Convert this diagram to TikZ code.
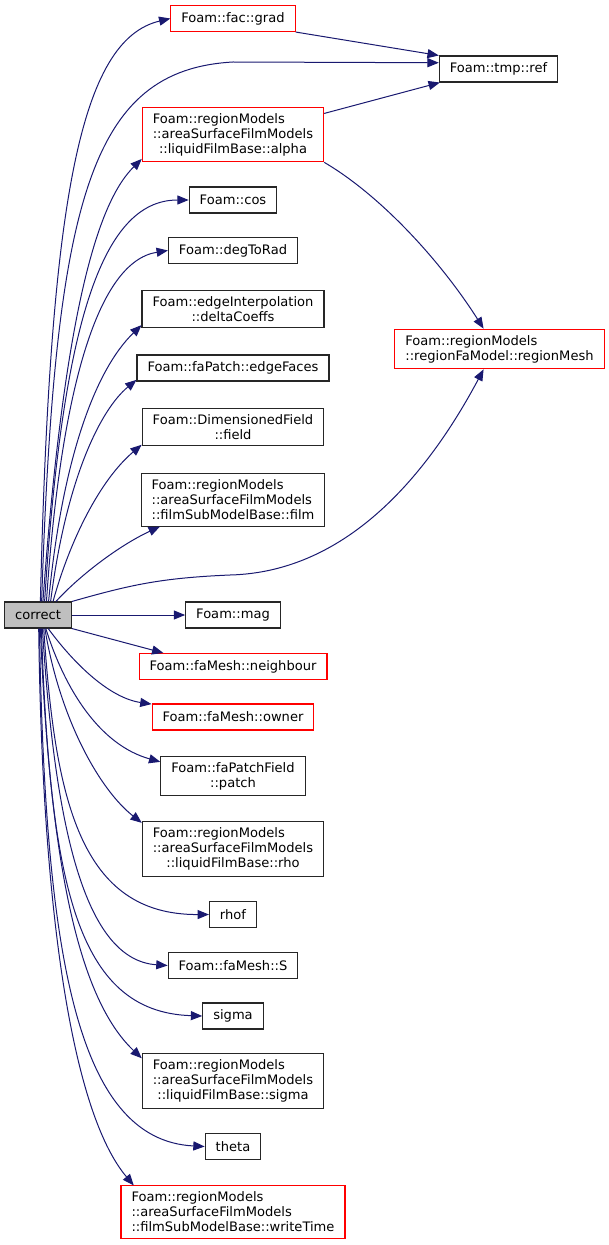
\documentclass[tikz,border=0pt]{standalone}
\usepackage{fontspec}
\setmainfont{DejaVu Sans}
\usepackage{tikz}
\usetikzlibrary{positioning,shapes,arrows.meta,calc}
\usepackage{xcolor}
\definecolor{eblue}{rgb}{0.098,0.098,0.439}
\definecolor{tred}{rgb}{1,0,0}
\colorlet{cgray}{black!25}
\tikzstyle{func} = [draw=black!85, line width=0.8pt, rectangle, align=center,
    inner xsep=7.9pt, inner ysep=4.5pt, minimum height=19.5pt,
    font=\fontsize{9.8}{11.25}\selectfont]
\tikzstyle{trunc} = [func, draw=tred]
\tikzstyle{root} = [func, fill=cgray]
\tikzstyle{call} = [draw=eblue, line width=0.75pt,
    -{Triangle[length=8.5pt,width=6.8pt]}, fill=none]
\newcommand{\firstline}[2]{\rlap{#1}\phantom{#2}}

\begin{document}
\begin{tikzpicture}[x=0.75pt,y=-0.75pt]
\useasboundingbox (0,0) rectangle (608,1245);
% called functions, one column
\node (correct) [root] at (38,615) {correct};
\node (grad) [trunc] at (233,18.5) {Foam::fac::grad};
\node (ref) [func] at (498.5,69) {Foam::tmp::ref};
\node (alpha) [trunc] at (233,134.5) {\firstline{Foam::regionModels}{::areaSurfaceFilmModels}\\::areaSurfaceFilmModels\\::liquidFilmBase::alpha};
\node (cos) [func] at (233,200) {Foam::cos};
\node (degrad) [func] at (233,250.5) {Foam::degToRad};
\node (delta) [func] at (233,309) {Foam::edgeInterpolation\\::deltaCoeffs};
\node (edgefaces) [func] at (233,368) {Foam::faPatch::edgeFaces};
\node (field) [func] at (233,427) {Foam::DimensionedField\\::field};
\node (film) [func, align=left] at (233,500) {Foam::regionModels\\::areaSurfaceFilmModels\\::filmSubModelBase::film};
\node (rmesh) [trunc, align=left] at (499.5,349) {Foam::regionModels\\::regionFaModel::regionMesh};
\node (mag) [func] at (233,615) {Foam::mag};
\node (nbr) [trunc] at (233,666.5) {Foam::faMesh::neighbour};
\node (owner) [trunc] at (233,717) {Foam::faMesh::owner};
\node (patch) [func] at (233,776) {Foam::faPatchField\\::patch};
\node (rho) [func] at (233,849) {\firstline{Foam::regionModels}{::areaSurfaceFilmModels}\\::areaSurfaceFilmModels\\::liquidFilmBase::rho};
\node (rhof) [func] at (233,914.5) {rhof};
\node (S) [func] at (233,965.5) {Foam::faMesh::S};
\node (sigma) [func] at (233,1016) {sigma};
\node (lsigma) [func] at (233,1081) {\firstline{Foam::regionModels}{::areaSurfaceFilmModels}\\::areaSurfaceFilmModels\\::liquidFilmBase::sigma};
\node (theta) [func] at (233,1146.5) {theta};
\node (wtime) [trunc, align=left] at (233,1212) {Foam::regionModels\\::areaSurfaceFilmModels\\::filmSubModelBase::writeTime};

% calls going up
\draw [call] (correct.80) .. controls (50,200) and (80,40) .. (grad.west);
\draw [call] (correct.75) .. controls (55,200) and (90,70) .. (233,62) -- (ref.174);
\draw [call] (correct.70) .. controls (65,300) and (100,200) .. (alpha.195);
\draw [call] (correct.64) .. controls (62,330) and (100,200) .. (cos.west);
\draw [call] (correct.58) .. controls (60,400) and (95,262) .. (degrad.west);
\draw [call] (correct.52) .. controls (62,460) and (95,370) .. (delta.190);
\draw [call] (correct.47) .. controls (66,480) and (100,410) .. (edgefaces.187);
\draw [call] (correct.42) .. controls (70,540) and (100,480) .. (field.191);
\draw [call] (correct.37) .. controls (80,575) and (120,545) .. (film.200);
\draw [call] (correct.north east) .. controls (130,585) and (160,578) .. (230,575)
    .. controls (350,572) and (430,470) .. (rmesh.232);
% calls between the callees
\draw [call] (grad.south east) -- (ref.north west);
\draw [call] (alpha.13) -- (ref.193);
\draw [call] (alpha.south east) .. controls (380,195) and (440,260) .. (rmesh.128);
% calls going down
\draw [call] (correct.east) -- (mag.west);
\draw [call] (correct.south east) -- (nbr.169);
\draw [call] (correct.-53) .. controls (75,665) and (110,698) .. (owner.171);
\draw [call] (correct.-60) .. controls (65,690) and (100,745) .. (patch.169);
\draw [call] (correct.-63) .. controls (60,720) and (100,790) .. (rho.164);
\draw [call] (correct.-67) .. controls (55,800) and (80,915) .. (rhof.west);
\draw [call] (correct.-72) .. controls (55,830) and (85,960) .. (S.west);
\draw [call] (correct.-76) .. controls (50,880) and (75,1012) .. (sigma.west);
\draw [call] (correct.-80) .. controls (50,870) and (80,1000) .. (lsigma.166);
\draw [call] (correct.-84) .. controls (45,950) and (75,1140) .. (theta.west);
\draw [call] (correct.-87) .. controls (42,900) and (70,1110) .. (wtime.165);
\end{tikzpicture}
\end{document}
